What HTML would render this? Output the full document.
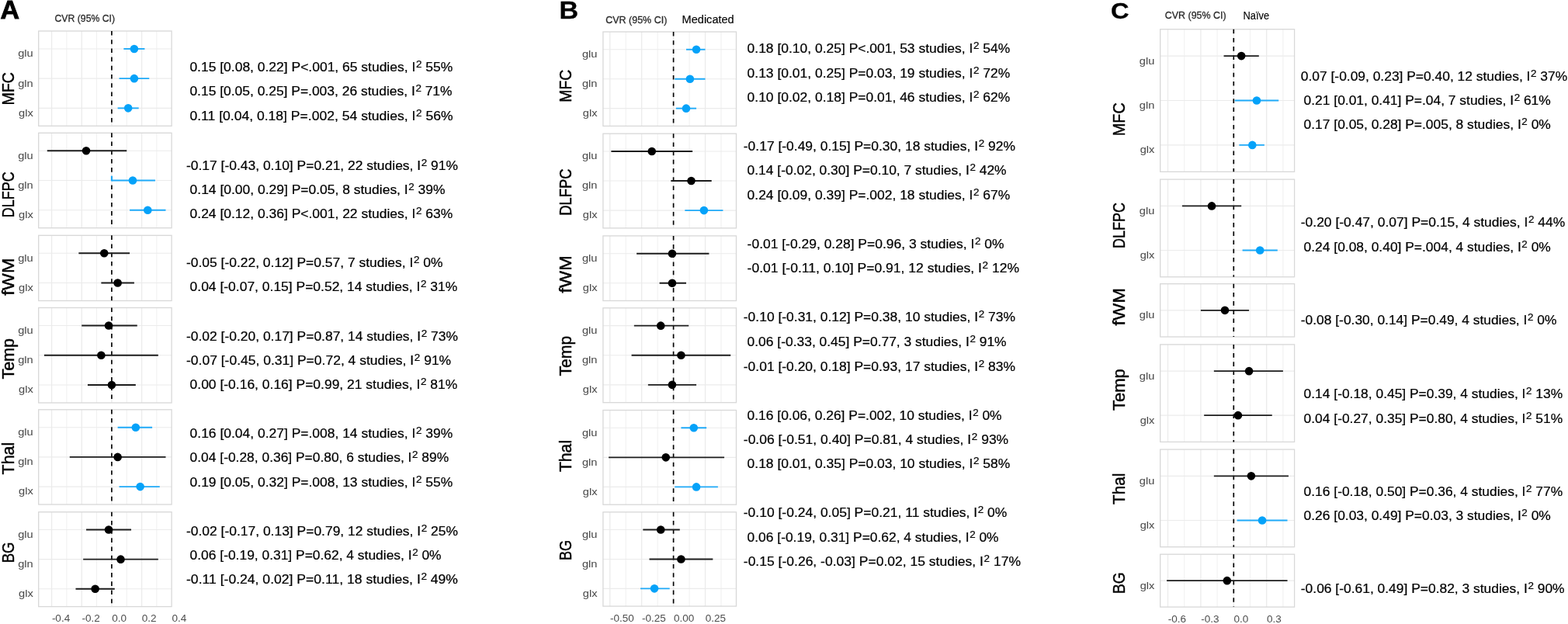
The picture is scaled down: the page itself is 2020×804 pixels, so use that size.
<!DOCTYPE html>
<html><head><meta charset="utf-8"><title>Forest plots</title>
<style>html,body{margin:0;padding:0;background:#fff;}body{width:2020px;height:804px;overflow:hidden;}svg{display:block;}text{font-family:"Liberation Sans", Arial, sans-serif;}</style>
</head><body>
<svg width="2020" height="804" viewBox="0 0 2020 804">
<rect x="0" y="0" width="2020" height="804" fill="#fff"/>
<g id="panelA">
<line x1="85.91" y1="40" x2="85.91" y2="162.3" stroke="#f1f1f1" stroke-width="1.1"/><line x1="124.57" y1="40" x2="124.57" y2="162.3" stroke="#f1f1f1" stroke-width="1.1"/><line x1="163.23" y1="40" x2="163.23" y2="162.3" stroke="#f1f1f1" stroke-width="1.1"/><line x1="201.89" y1="40" x2="201.89" y2="162.3" stroke="#f1f1f1" stroke-width="1.1"/><line x1="66.58" y1="40" x2="66.58" y2="162.3" stroke="#ebebeb" stroke-width="1.3"/><line x1="105.24" y1="40" x2="105.24" y2="162.3" stroke="#ebebeb" stroke-width="1.3"/><line x1="143.9" y1="40" x2="143.9" y2="162.3" stroke="#ebebeb" stroke-width="1.3"/><line x1="182.56" y1="40" x2="182.56" y2="162.3" stroke="#ebebeb" stroke-width="1.3"/><line x1="49.7" y1="62.93" x2="221.1" y2="62.93" stroke="#ebebeb" stroke-width="1.1"/><line x1="49.7" y1="101.15" x2="221.1" y2="101.15" stroke="#ebebeb" stroke-width="1.1"/><line x1="49.7" y1="139.37" x2="221.1" y2="139.37" stroke="#ebebeb" stroke-width="1.1"/>
<rect x="49.7" y="40" width="171.4" height="122.3" fill="none" stroke="#d8d8d8" stroke-width="1.3"/>
<line x1="143.9" y1="40" x2="143.9" y2="162.3" stroke="#000" stroke-width="1.65" stroke-dasharray="5.6 5.6"/>
<line x1="159.36" y1="62.93" x2="186.43" y2="62.93" stroke="#1faaf8" stroke-width="1.9"/>
<circle cx="172.9" cy="62.93" r="5.3" fill="#05a2f9"/>
<text x="42.7" y="73.33" font-size="13.3" fill="#4d4d4d" stroke="#4d4d4d" stroke-width="0.05" text-anchor="end" textLength="19.52" lengthAdjust="spacingAndGlyphs">glu</text>
<line x1="153.56" y1="101.15" x2="192.23" y2="101.15" stroke="#1faaf8" stroke-width="1.9"/>
<circle cx="172.9" cy="101.15" r="5.3" fill="#05a2f9"/>
<text x="42.7" y="111.55" font-size="13.3" fill="#4d4d4d" stroke="#4d4d4d" stroke-width="0.05" text-anchor="end" textLength="19.52" lengthAdjust="spacingAndGlyphs">gln</text>
<line x1="151.63" y1="139.37" x2="178.69" y2="139.37" stroke="#1faaf8" stroke-width="1.9"/>
<circle cx="165.16" cy="139.37" r="5.3" fill="#05a2f9"/>
<text x="42.7" y="149.77" font-size="13.3" fill="#4d4d4d" stroke="#4d4d4d" stroke-width="0.05" text-anchor="end" textLength="18.7" lengthAdjust="spacingAndGlyphs">glx</text>
<text transform="translate(17.9,135.5) rotate(-90)" font-size="21.2" fill="#000" stroke="#000" stroke-width="0.45" textLength="42.5" lengthAdjust="spacingAndGlyphs">MFC</text>
<line x1="85.91" y1="171.3" x2="85.91" y2="293.7" stroke="#f1f1f1" stroke-width="1.1"/><line x1="124.57" y1="171.3" x2="124.57" y2="293.7" stroke="#f1f1f1" stroke-width="1.1"/><line x1="163.23" y1="171.3" x2="163.23" y2="293.7" stroke="#f1f1f1" stroke-width="1.1"/><line x1="201.89" y1="171.3" x2="201.89" y2="293.7" stroke="#f1f1f1" stroke-width="1.1"/><line x1="66.58" y1="171.3" x2="66.58" y2="293.7" stroke="#ebebeb" stroke-width="1.3"/><line x1="105.24" y1="171.3" x2="105.24" y2="293.7" stroke="#ebebeb" stroke-width="1.3"/><line x1="143.9" y1="171.3" x2="143.9" y2="293.7" stroke="#ebebeb" stroke-width="1.3"/><line x1="182.56" y1="171.3" x2="182.56" y2="293.7" stroke="#ebebeb" stroke-width="1.3"/><line x1="49.7" y1="194.25" x2="221.1" y2="194.25" stroke="#ebebeb" stroke-width="1.1"/><line x1="49.7" y1="232.5" x2="221.1" y2="232.5" stroke="#ebebeb" stroke-width="1.1"/><line x1="49.7" y1="270.75" x2="221.1" y2="270.75" stroke="#ebebeb" stroke-width="1.1"/>
<rect x="49.7" y="171.3" width="171.4" height="122.4" fill="none" stroke="#d8d8d8" stroke-width="1.3"/>
<line x1="143.9" y1="171.3" x2="143.9" y2="293.7" stroke="#000" stroke-width="1.65" stroke-dasharray="5.6 5.6"/>
<line x1="60.78" y1="194.25" x2="163.23" y2="194.25" stroke="#1c1c1c" stroke-width="1.9"/>
<circle cx="111.04" cy="194.25" r="5.3" fill="#000000"/>
<text x="42.7" y="204.65" font-size="13.3" fill="#4d4d4d" stroke="#4d4d4d" stroke-width="0.05" text-anchor="end" textLength="19.52" lengthAdjust="spacingAndGlyphs">glu</text>
<line x1="143.9" y1="232.5" x2="199.96" y2="232.5" stroke="#1faaf8" stroke-width="1.9"/>
<circle cx="170.96" cy="232.5" r="5.3" fill="#05a2f9"/>
<text x="42.7" y="242.9" font-size="13.3" fill="#4d4d4d" stroke="#4d4d4d" stroke-width="0.05" text-anchor="end" textLength="19.52" lengthAdjust="spacingAndGlyphs">gln</text>
<line x1="167.1" y1="270.75" x2="213.49" y2="270.75" stroke="#1faaf8" stroke-width="1.9"/>
<circle cx="190.29" cy="270.75" r="5.3" fill="#05a2f9"/>
<text x="42.7" y="281.15" font-size="13.3" fill="#4d4d4d" stroke="#4d4d4d" stroke-width="0.05" text-anchor="end" textLength="18.7" lengthAdjust="spacingAndGlyphs">glx</text>
<text transform="translate(17.9,280.2) rotate(-90)" font-size="21.2" fill="#000" stroke="#000" stroke-width="0.45" textLength="58.9" lengthAdjust="spacingAndGlyphs">DLFPC</text>
<line x1="85.91" y1="303.3" x2="85.91" y2="387.5" stroke="#f1f1f1" stroke-width="1.1"/><line x1="124.57" y1="303.3" x2="124.57" y2="387.5" stroke="#f1f1f1" stroke-width="1.1"/><line x1="163.23" y1="303.3" x2="163.23" y2="387.5" stroke="#f1f1f1" stroke-width="1.1"/><line x1="201.89" y1="303.3" x2="201.89" y2="387.5" stroke="#f1f1f1" stroke-width="1.1"/><line x1="66.58" y1="303.3" x2="66.58" y2="387.5" stroke="#ebebeb" stroke-width="1.3"/><line x1="105.24" y1="303.3" x2="105.24" y2="387.5" stroke="#ebebeb" stroke-width="1.3"/><line x1="143.9" y1="303.3" x2="143.9" y2="387.5" stroke="#ebebeb" stroke-width="1.3"/><line x1="182.56" y1="303.3" x2="182.56" y2="387.5" stroke="#ebebeb" stroke-width="1.3"/><line x1="49.7" y1="326.26" x2="221.1" y2="326.26" stroke="#ebebeb" stroke-width="1.1"/><line x1="49.7" y1="364.54" x2="221.1" y2="364.54" stroke="#ebebeb" stroke-width="1.1"/>
<rect x="49.7" y="303.3" width="171.4" height="84.2" fill="none" stroke="#d8d8d8" stroke-width="1.3"/>
<line x1="143.9" y1="303.3" x2="143.9" y2="387.5" stroke="#000" stroke-width="1.65" stroke-dasharray="5.6 5.6"/>
<line x1="101.37" y1="326.26" x2="167.1" y2="326.26" stroke="#1c1c1c" stroke-width="1.9"/>
<circle cx="134.24" cy="326.26" r="5.3" fill="#000000"/>
<text x="42.7" y="336.66" font-size="13.3" fill="#4d4d4d" stroke="#4d4d4d" stroke-width="0.05" text-anchor="end" textLength="19.52" lengthAdjust="spacingAndGlyphs">glu</text>
<line x1="130.37" y1="364.54" x2="172.9" y2="364.54" stroke="#1c1c1c" stroke-width="1.9"/>
<circle cx="151.63" cy="364.54" r="5.3" fill="#000000"/>
<text x="42.7" y="374.94" font-size="13.3" fill="#4d4d4d" stroke="#4d4d4d" stroke-width="0.05" text-anchor="end" textLength="18.7" lengthAdjust="spacingAndGlyphs">glx</text>
<text transform="translate(17.9,380.7) rotate(-90)" font-size="21.2" fill="#000" stroke="#000" stroke-width="0.45" textLength="48.2" lengthAdjust="spacingAndGlyphs">fWM</text>
<line x1="85.91" y1="396.5" x2="85.91" y2="519" stroke="#f1f1f1" stroke-width="1.1"/><line x1="124.57" y1="396.5" x2="124.57" y2="519" stroke="#f1f1f1" stroke-width="1.1"/><line x1="163.23" y1="396.5" x2="163.23" y2="519" stroke="#f1f1f1" stroke-width="1.1"/><line x1="201.89" y1="396.5" x2="201.89" y2="519" stroke="#f1f1f1" stroke-width="1.1"/><line x1="66.58" y1="396.5" x2="66.58" y2="519" stroke="#ebebeb" stroke-width="1.3"/><line x1="105.24" y1="396.5" x2="105.24" y2="519" stroke="#ebebeb" stroke-width="1.3"/><line x1="143.9" y1="396.5" x2="143.9" y2="519" stroke="#ebebeb" stroke-width="1.3"/><line x1="182.56" y1="396.5" x2="182.56" y2="519" stroke="#ebebeb" stroke-width="1.3"/><line x1="49.7" y1="419.47" x2="221.1" y2="419.47" stroke="#ebebeb" stroke-width="1.1"/><line x1="49.7" y1="457.75" x2="221.1" y2="457.75" stroke="#ebebeb" stroke-width="1.1"/><line x1="49.7" y1="496.03" x2="221.1" y2="496.03" stroke="#ebebeb" stroke-width="1.1"/>
<rect x="49.7" y="396.5" width="171.4" height="122.5" fill="none" stroke="#d8d8d8" stroke-width="1.3"/>
<line x1="143.9" y1="396.5" x2="143.9" y2="519" stroke="#000" stroke-width="1.65" stroke-dasharray="5.6 5.6"/>
<line x1="105.24" y1="419.47" x2="176.76" y2="419.47" stroke="#1c1c1c" stroke-width="1.9"/>
<circle cx="140.03" cy="419.47" r="5.3" fill="#000000"/>
<text x="42.7" y="429.87" font-size="13.3" fill="#4d4d4d" stroke="#4d4d4d" stroke-width="0.05" text-anchor="end" textLength="19.52" lengthAdjust="spacingAndGlyphs">glu</text>
<line x1="56.91" y1="457.75" x2="203.82" y2="457.75" stroke="#1c1c1c" stroke-width="1.9"/>
<circle cx="130.37" cy="457.75" r="5.3" fill="#000000"/>
<text x="42.7" y="468.15" font-size="13.3" fill="#4d4d4d" stroke="#4d4d4d" stroke-width="0.05" text-anchor="end" textLength="19.52" lengthAdjust="spacingAndGlyphs">gln</text>
<line x1="112.97" y1="496.03" x2="174.83" y2="496.03" stroke="#1c1c1c" stroke-width="1.9"/>
<circle cx="143.9" cy="496.03" r="5.3" fill="#000000"/>
<text x="42.7" y="506.43" font-size="13.3" fill="#4d4d4d" stroke="#4d4d4d" stroke-width="0.05" text-anchor="end" textLength="18.7" lengthAdjust="spacingAndGlyphs">glx</text>
<text transform="translate(17.9,488.6) rotate(-90)" font-size="21.2" fill="#000" stroke="#000" stroke-width="0.45" textLength="52.6" lengthAdjust="spacingAndGlyphs">Temp</text>
<line x1="85.91" y1="527.8" x2="85.91" y2="650" stroke="#f1f1f1" stroke-width="1.1"/><line x1="124.57" y1="527.8" x2="124.57" y2="650" stroke="#f1f1f1" stroke-width="1.1"/><line x1="163.23" y1="527.8" x2="163.23" y2="650" stroke="#f1f1f1" stroke-width="1.1"/><line x1="201.89" y1="527.8" x2="201.89" y2="650" stroke="#f1f1f1" stroke-width="1.1"/><line x1="66.58" y1="527.8" x2="66.58" y2="650" stroke="#ebebeb" stroke-width="1.3"/><line x1="105.24" y1="527.8" x2="105.24" y2="650" stroke="#ebebeb" stroke-width="1.3"/><line x1="143.9" y1="527.8" x2="143.9" y2="650" stroke="#ebebeb" stroke-width="1.3"/><line x1="182.56" y1="527.8" x2="182.56" y2="650" stroke="#ebebeb" stroke-width="1.3"/><line x1="49.7" y1="550.71" x2="221.1" y2="550.71" stroke="#ebebeb" stroke-width="1.1"/><line x1="49.7" y1="588.9" x2="221.1" y2="588.9" stroke="#ebebeb" stroke-width="1.1"/><line x1="49.7" y1="627.09" x2="221.1" y2="627.09" stroke="#ebebeb" stroke-width="1.1"/>
<rect x="49.7" y="527.8" width="171.4" height="122.2" fill="none" stroke="#d8d8d8" stroke-width="1.3"/>
<line x1="143.9" y1="527.8" x2="143.9" y2="650" stroke="#000" stroke-width="1.65" stroke-dasharray="5.6 5.6"/>
<line x1="151.63" y1="550.71" x2="196.09" y2="550.71" stroke="#1faaf8" stroke-width="1.9"/>
<circle cx="174.83" cy="550.71" r="5.3" fill="#05a2f9"/>
<text x="42.7" y="561.11" font-size="13.3" fill="#4d4d4d" stroke="#4d4d4d" stroke-width="0.05" text-anchor="end" textLength="19.52" lengthAdjust="spacingAndGlyphs">glu</text>
<line x1="89.78" y1="588.9" x2="213.49" y2="588.9" stroke="#1c1c1c" stroke-width="1.9"/>
<circle cx="151.63" cy="588.9" r="5.3" fill="#000000"/>
<text x="42.7" y="599.3" font-size="13.3" fill="#4d4d4d" stroke="#4d4d4d" stroke-width="0.05" text-anchor="end" textLength="19.52" lengthAdjust="spacingAndGlyphs">gln</text>
<line x1="153.56" y1="627.09" x2="205.76" y2="627.09" stroke="#1faaf8" stroke-width="1.9"/>
<circle cx="180.63" cy="627.09" r="5.3" fill="#05a2f9"/>
<text x="42.7" y="637.49" font-size="13.3" fill="#4d4d4d" stroke="#4d4d4d" stroke-width="0.05" text-anchor="end" textLength="18.7" lengthAdjust="spacingAndGlyphs">glx</text>
<text transform="translate(17.9,611.4) rotate(-90)" font-size="21.2" fill="#000" stroke="#000" stroke-width="0.45" textLength="41.7" lengthAdjust="spacingAndGlyphs">Thal</text>
<line x1="85.91" y1="659.7" x2="85.91" y2="781.6" stroke="#f1f1f1" stroke-width="1.1"/><line x1="124.57" y1="659.7" x2="124.57" y2="781.6" stroke="#f1f1f1" stroke-width="1.1"/><line x1="163.23" y1="659.7" x2="163.23" y2="781.6" stroke="#f1f1f1" stroke-width="1.1"/><line x1="201.89" y1="659.7" x2="201.89" y2="781.6" stroke="#f1f1f1" stroke-width="1.1"/><line x1="66.58" y1="659.7" x2="66.58" y2="781.6" stroke="#ebebeb" stroke-width="1.3"/><line x1="105.24" y1="659.7" x2="105.24" y2="781.6" stroke="#ebebeb" stroke-width="1.3"/><line x1="143.9" y1="659.7" x2="143.9" y2="781.6" stroke="#ebebeb" stroke-width="1.3"/><line x1="182.56" y1="659.7" x2="182.56" y2="781.6" stroke="#ebebeb" stroke-width="1.3"/><line x1="49.7" y1="682.56" x2="221.1" y2="682.56" stroke="#ebebeb" stroke-width="1.1"/><line x1="49.7" y1="720.65" x2="221.1" y2="720.65" stroke="#ebebeb" stroke-width="1.1"/><line x1="49.7" y1="758.74" x2="221.1" y2="758.74" stroke="#ebebeb" stroke-width="1.1"/>
<rect x="49.7" y="659.7" width="171.4" height="121.9" fill="none" stroke="#d8d8d8" stroke-width="1.3"/>
<line x1="143.9" y1="659.7" x2="143.9" y2="781.6" stroke="#000" stroke-width="1.65" stroke-dasharray="5.6 5.6"/>
<line x1="111.04" y1="682.56" x2="169.03" y2="682.56" stroke="#1c1c1c" stroke-width="1.9"/>
<circle cx="140.03" cy="682.56" r="5.3" fill="#000000"/>
<text x="42.7" y="692.96" font-size="13.3" fill="#4d4d4d" stroke="#4d4d4d" stroke-width="0.05" text-anchor="end" textLength="19.52" lengthAdjust="spacingAndGlyphs">glu</text>
<line x1="107.17" y1="720.65" x2="203.82" y2="720.65" stroke="#1c1c1c" stroke-width="1.9"/>
<circle cx="155.5" cy="720.65" r="5.3" fill="#000000"/>
<text x="42.7" y="731.05" font-size="13.3" fill="#4d4d4d" stroke="#4d4d4d" stroke-width="0.05" text-anchor="end" textLength="19.52" lengthAdjust="spacingAndGlyphs">gln</text>
<line x1="97.51" y1="758.74" x2="147.77" y2="758.74" stroke="#1c1c1c" stroke-width="1.9"/>
<circle cx="122.64" cy="758.74" r="5.3" fill="#000000"/>
<text x="42.7" y="769.14" font-size="13.3" fill="#4d4d4d" stroke="#4d4d4d" stroke-width="0.05" text-anchor="end" textLength="18.7" lengthAdjust="spacingAndGlyphs">glx</text>
<text transform="translate(17.9,725.3) rotate(-90)" font-size="21.2" fill="#000" stroke="#000" stroke-width="0.45" textLength="26.9" lengthAdjust="spacingAndGlyphs">BG</text>
<line x1="143.9" y1="226.6" x2="143.9" y2="233.4" stroke="#1faaf8" stroke-width="2.1"/>
<text x="66.88" y="800.8" font-size="13.5" fill="#4d4d4d">-0.4</text>
<text x="105.54" y="800.8" font-size="13.5" fill="#4d4d4d">-0.2</text>
<text x="144.2" y="800.8" font-size="13.5" fill="#4d4d4d">0.0</text>
<text x="182.86" y="800.8" font-size="13.5" fill="#4d4d4d">0.2</text>
<text x="221.52" y="800.8" font-size="13.5" fill="#4d4d4d">0.4</text>
<text transform="translate(0.4,24) scale(1.0,1)" font-size="34" font-weight="bold" fill="#000" stroke="#000" stroke-width="0.9">A</text>
<text x="70.5" y="27.7" font-size="12.6" fill="#2a2a2a" stroke="#2a2a2a" stroke-width="0.3" textLength="77.6" lengthAdjust="spacingAndGlyphs">CVR (95% CI)</text>
<text x="244.4" y="91.8" font-size="16.3" fill="#000" stroke="#000" stroke-width="0.22" textLength="338.8" lengthAdjust="spacingAndGlyphs">0.15 [0.08, 0.22] P&lt;.001, 65 studies, I<tspan font-size="12.5" dx="0.6" dy="-5.0">2</tspan><tspan dy="5.0"> 55%</tspan></text>
<text x="244.4" y="123.2" font-size="16.3" fill="#000" stroke="#000" stroke-width="0.22" textLength="338.2" lengthAdjust="spacingAndGlyphs">0.15 [0.05, 0.25] P=.003, 26 studies, I<tspan font-size="12.5" dx="0.6" dy="-5.0">2</tspan><tspan dy="5.0"> 71%</tspan></text>
<text x="244.4" y="154.5" font-size="16.3" fill="#000" stroke="#000" stroke-width="0.22" textLength="339.2" lengthAdjust="spacingAndGlyphs">0.11 [0.04, 0.18] P=.002, 54 studies, I<tspan font-size="12.5" dx="0.6" dy="-5.0">2</tspan><tspan dy="5.0"> 56%</tspan></text>
<text x="240" y="218.6" font-size="16.3" fill="#000" stroke="#000" stroke-width="0.22" textLength="350" lengthAdjust="spacingAndGlyphs">-0.17 [-0.43, 0.10] P=0.21, 22 studies, I<tspan font-size="12.5" dx="0.6" dy="-5.0">2</tspan><tspan dy="5.0"> 91%</tspan></text>
<text x="244.6" y="249.7" font-size="16.3" fill="#000" stroke="#000" stroke-width="0.22" textLength="329" lengthAdjust="spacingAndGlyphs">0.14 [0.00, 0.29] P=0.05, 8 studies, I<tspan font-size="12.5" dx="0.6" dy="-5.0">2</tspan><tspan dy="5.0"> 39%</tspan></text>
<text x="244.6" y="281.3" font-size="16.3" fill="#000" stroke="#000" stroke-width="0.22" textLength="338.6" lengthAdjust="spacingAndGlyphs">0.24 [0.12, 0.36] P&lt;.001, 22 studies, I<tspan font-size="12.5" dx="0.6" dy="-5.0">2</tspan><tspan dy="5.0"> 63%</tspan></text>
<text x="240" y="344.2" font-size="16.3" fill="#000" stroke="#000" stroke-width="0.22" textLength="330.4" lengthAdjust="spacingAndGlyphs">-0.05 [-0.22, 0.12] P=0.57, 7 studies, I<tspan font-size="12.5" dx="0.6" dy="-5.0">2</tspan><tspan dy="5.0"> 0%</tspan></text>
<text x="244.6" y="375.3" font-size="16.3" fill="#000" stroke="#000" stroke-width="0.22" textLength="344.6" lengthAdjust="spacingAndGlyphs">0.04 [-0.07, 0.15] P=0.52, 14 studies, I<tspan font-size="12.5" dx="0.6" dy="-5.0">2</tspan><tspan dy="5.0"> 31%</tspan></text>
<text x="240" y="438.6" font-size="16.3" fill="#000" stroke="#000" stroke-width="0.22" textLength="350" lengthAdjust="spacingAndGlyphs">-0.02 [-0.20, 0.17] P=0.87, 14 studies, I<tspan font-size="12.5" dx="0.6" dy="-5.0">2</tspan><tspan dy="5.0"> 73%</tspan></text>
<text x="240" y="469.7" font-size="16.3" fill="#000" stroke="#000" stroke-width="0.22" textLength="341.2" lengthAdjust="spacingAndGlyphs">-0.07 [-0.45, 0.31] P=0.72, 4 studies, I<tspan font-size="12.5" dx="0.6" dy="-5.0">2</tspan><tspan dy="5.0"> 91%</tspan></text>
<text x="244.6" y="501.3" font-size="16.3" fill="#000" stroke="#000" stroke-width="0.22" textLength="344.6" lengthAdjust="spacingAndGlyphs">0.00 [-0.16, 0.16] P=0.99, 21 studies, I<tspan font-size="12.5" dx="0.6" dy="-5.0">2</tspan><tspan dy="5.0"> 81%</tspan></text>
<text x="244.6" y="563.8" font-size="16.3" fill="#000" stroke="#000" stroke-width="0.22" textLength="338.6" lengthAdjust="spacingAndGlyphs">0.16 [0.04, 0.27] P=.008, 14 studies, I<tspan font-size="12.5" dx="0.6" dy="-5.0">2</tspan><tspan dy="5.0"> 39%</tspan></text>
<text x="244.6" y="594.9" font-size="16.3" fill="#000" stroke="#000" stroke-width="0.22" textLength="333.6" lengthAdjust="spacingAndGlyphs">0.04 [-0.28, 0.36] P=0.80, 6 studies, I<tspan font-size="12.5" dx="0.6" dy="-5.0">2</tspan><tspan dy="5.0"> 89%</tspan></text>
<text x="244.6" y="626.9" font-size="16.3" fill="#000" stroke="#000" stroke-width="0.22" textLength="338.6" lengthAdjust="spacingAndGlyphs">0.19 [0.05, 0.32] P=.008, 13 studies, I<tspan font-size="12.5" dx="0.6" dy="-5.0">2</tspan><tspan dy="5.0"> 55%</tspan></text>
<text x="240" y="689.6" font-size="16.3" fill="#000" stroke="#000" stroke-width="0.22" textLength="350" lengthAdjust="spacingAndGlyphs">-0.02 [-0.17, 0.13] P=0.79, 12 studies, I<tspan font-size="12.5" dx="0.6" dy="-5.0">2</tspan><tspan dy="5.0"> 25%</tspan></text>
<text x="244.6" y="721.4" font-size="16.3" fill="#000" stroke="#000" stroke-width="0.22" textLength="324" lengthAdjust="spacingAndGlyphs">0.06 [-0.19, 0.31] P=0.62, 4 studies, I<tspan font-size="12.5" dx="0.6" dy="-5.0">2</tspan><tspan dy="5.0"> 0%</tspan></text>
<text x="240" y="752.3" font-size="16.3" fill="#000" stroke="#000" stroke-width="0.22" textLength="350" lengthAdjust="spacingAndGlyphs">-0.11 [-0.24, 0.02] P=0.11, 18 studies, I<tspan font-size="12.5" dx="0.6" dy="-5.0">2</tspan><tspan dy="5.0"> 49%</tspan></text>
</g>
<g id="panelB">
<line x1="806.21" y1="41" x2="806.21" y2="162.4" stroke="#f1f1f1" stroke-width="1.1"/><line x1="847.14" y1="41" x2="847.14" y2="162.4" stroke="#f1f1f1" stroke-width="1.1"/><line x1="888.06" y1="41" x2="888.06" y2="162.4" stroke="#f1f1f1" stroke-width="1.1"/><line x1="928.99" y1="41" x2="928.99" y2="162.4" stroke="#f1f1f1" stroke-width="1.1"/><line x1="785.75" y1="41" x2="785.75" y2="162.4" stroke="#ebebeb" stroke-width="1.3"/><line x1="826.68" y1="41" x2="826.68" y2="162.4" stroke="#ebebeb" stroke-width="1.3"/><line x1="867.6" y1="41" x2="867.6" y2="162.4" stroke="#ebebeb" stroke-width="1.3"/><line x1="908.52" y1="41" x2="908.52" y2="162.4" stroke="#ebebeb" stroke-width="1.3"/><line x1="776.9" y1="63.76" x2="948.5" y2="63.76" stroke="#ebebeb" stroke-width="1.1"/><line x1="776.9" y1="101.7" x2="948.5" y2="101.7" stroke="#ebebeb" stroke-width="1.1"/><line x1="776.9" y1="139.64" x2="948.5" y2="139.64" stroke="#ebebeb" stroke-width="1.1"/>
<rect x="776.9" y="41" width="171.6" height="121.4" fill="none" stroke="#d8d8d8" stroke-width="1.3"/>
<line x1="867.6" y1="41" x2="867.6" y2="162.4" stroke="#000" stroke-width="1.65" stroke-dasharray="5.6 5.6"/>
<line x1="883.97" y1="63.76" x2="908.52" y2="63.76" stroke="#1faaf8" stroke-width="1.9"/>
<circle cx="897.07" cy="63.76" r="5.3" fill="#05a2f9"/>
<text x="769.5" y="74.16" font-size="13.3" fill="#4d4d4d" stroke="#4d4d4d" stroke-width="0.05" text-anchor="end" textLength="19.52" lengthAdjust="spacingAndGlyphs">glu</text>
<line x1="869.24" y1="101.7" x2="908.52" y2="101.7" stroke="#1faaf8" stroke-width="1.9"/>
<circle cx="888.88" cy="101.7" r="5.3" fill="#05a2f9"/>
<text x="769.5" y="112.1" font-size="13.3" fill="#4d4d4d" stroke="#4d4d4d" stroke-width="0.05" text-anchor="end" textLength="19.52" lengthAdjust="spacingAndGlyphs">gln</text>
<line x1="870.87" y1="139.64" x2="897.07" y2="139.64" stroke="#1faaf8" stroke-width="1.9"/>
<circle cx="883.97" cy="139.64" r="5.3" fill="#05a2f9"/>
<text x="769.5" y="150.04" font-size="13.3" fill="#4d4d4d" stroke="#4d4d4d" stroke-width="0.05" text-anchor="end" textLength="18.7" lengthAdjust="spacingAndGlyphs">glx</text>
<text transform="translate(736,131.8) rotate(-90)" font-size="21.2" fill="#000" stroke="#000" stroke-width="0.45" textLength="42.1" lengthAdjust="spacingAndGlyphs">MFC</text>
<line x1="806.21" y1="172.2" x2="806.21" y2="293.9" stroke="#f1f1f1" stroke-width="1.1"/><line x1="847.14" y1="172.2" x2="847.14" y2="293.9" stroke="#f1f1f1" stroke-width="1.1"/><line x1="888.06" y1="172.2" x2="888.06" y2="293.9" stroke="#f1f1f1" stroke-width="1.1"/><line x1="928.99" y1="172.2" x2="928.99" y2="293.9" stroke="#f1f1f1" stroke-width="1.1"/><line x1="785.75" y1="172.2" x2="785.75" y2="293.9" stroke="#ebebeb" stroke-width="1.3"/><line x1="826.68" y1="172.2" x2="826.68" y2="293.9" stroke="#ebebeb" stroke-width="1.3"/><line x1="867.6" y1="172.2" x2="867.6" y2="293.9" stroke="#ebebeb" stroke-width="1.3"/><line x1="908.52" y1="172.2" x2="908.52" y2="293.9" stroke="#ebebeb" stroke-width="1.3"/><line x1="776.9" y1="195.02" x2="948.5" y2="195.02" stroke="#ebebeb" stroke-width="1.1"/><line x1="776.9" y1="233.05" x2="948.5" y2="233.05" stroke="#ebebeb" stroke-width="1.1"/><line x1="776.9" y1="271.08" x2="948.5" y2="271.08" stroke="#ebebeb" stroke-width="1.1"/>
<rect x="776.9" y="172.2" width="171.6" height="121.7" fill="none" stroke="#d8d8d8" stroke-width="1.3"/>
<line x1="867.6" y1="172.2" x2="867.6" y2="293.9" stroke="#000" stroke-width="1.65" stroke-dasharray="5.6 5.6"/>
<line x1="787.39" y1="195.02" x2="892.15" y2="195.02" stroke="#1c1c1c" stroke-width="1.9"/>
<circle cx="839.77" cy="195.02" r="5.3" fill="#000000"/>
<text x="769.5" y="205.42" font-size="13.3" fill="#4d4d4d" stroke="#4d4d4d" stroke-width="0.05" text-anchor="end" textLength="19.52" lengthAdjust="spacingAndGlyphs">glu</text>
<line x1="864.33" y1="233.05" x2="916.71" y2="233.05" stroke="#1c1c1c" stroke-width="1.9"/>
<circle cx="890.52" cy="233.05" r="5.3" fill="#000000"/>
<text x="769.5" y="243.45" font-size="13.3" fill="#4d4d4d" stroke="#4d4d4d" stroke-width="0.05" text-anchor="end" textLength="19.52" lengthAdjust="spacingAndGlyphs">gln</text>
<line x1="882.33" y1="271.08" x2="931.44" y2="271.08" stroke="#1faaf8" stroke-width="1.9"/>
<circle cx="906.89" cy="271.08" r="5.3" fill="#05a2f9"/>
<text x="769.5" y="281.48" font-size="13.3" fill="#4d4d4d" stroke="#4d4d4d" stroke-width="0.05" text-anchor="end" textLength="18.7" lengthAdjust="spacingAndGlyphs">glx</text>
<text transform="translate(736,277.7) rotate(-90)" font-size="21.2" fill="#000" stroke="#000" stroke-width="0.45" textLength="60.3" lengthAdjust="spacingAndGlyphs">DLFPC</text>
<line x1="806.21" y1="303.9" x2="806.21" y2="387.5" stroke="#f1f1f1" stroke-width="1.1"/><line x1="847.14" y1="303.9" x2="847.14" y2="387.5" stroke="#f1f1f1" stroke-width="1.1"/><line x1="888.06" y1="303.9" x2="888.06" y2="387.5" stroke="#f1f1f1" stroke-width="1.1"/><line x1="928.99" y1="303.9" x2="928.99" y2="387.5" stroke="#f1f1f1" stroke-width="1.1"/><line x1="785.75" y1="303.9" x2="785.75" y2="387.5" stroke="#ebebeb" stroke-width="1.3"/><line x1="826.68" y1="303.9" x2="826.68" y2="387.5" stroke="#ebebeb" stroke-width="1.3"/><line x1="867.6" y1="303.9" x2="867.6" y2="387.5" stroke="#ebebeb" stroke-width="1.3"/><line x1="908.52" y1="303.9" x2="908.52" y2="387.5" stroke="#ebebeb" stroke-width="1.3"/><line x1="776.9" y1="326.7" x2="948.5" y2="326.7" stroke="#ebebeb" stroke-width="1.1"/><line x1="776.9" y1="364.7" x2="948.5" y2="364.7" stroke="#ebebeb" stroke-width="1.1"/>
<rect x="776.9" y="303.9" width="171.6" height="83.6" fill="none" stroke="#d8d8d8" stroke-width="1.3"/>
<line x1="867.6" y1="303.9" x2="867.6" y2="387.5" stroke="#000" stroke-width="1.65" stroke-dasharray="5.6 5.6"/>
<line x1="820.13" y1="326.7" x2="913.44" y2="326.7" stroke="#1c1c1c" stroke-width="1.9"/>
<circle cx="865.96" cy="326.7" r="5.3" fill="#000000"/>
<text x="769.5" y="337.1" font-size="13.3" fill="#4d4d4d" stroke="#4d4d4d" stroke-width="0.05" text-anchor="end" textLength="19.52" lengthAdjust="spacingAndGlyphs">glu</text>
<line x1="849.59" y1="364.7" x2="883.97" y2="364.7" stroke="#1c1c1c" stroke-width="1.9"/>
<circle cx="865.96" cy="364.7" r="5.3" fill="#000000"/>
<text x="769.5" y="375.1" font-size="13.3" fill="#4d4d4d" stroke="#4d4d4d" stroke-width="0.05" text-anchor="end" textLength="18.7" lengthAdjust="spacingAndGlyphs">glx</text>
<text transform="translate(736,377.5) rotate(-90)" font-size="21.2" fill="#000" stroke="#000" stroke-width="0.45" textLength="48.2" lengthAdjust="spacingAndGlyphs">fWM</text>
<line x1="806.21" y1="396.8" x2="806.21" y2="518.7" stroke="#f1f1f1" stroke-width="1.1"/><line x1="847.14" y1="396.8" x2="847.14" y2="518.7" stroke="#f1f1f1" stroke-width="1.1"/><line x1="888.06" y1="396.8" x2="888.06" y2="518.7" stroke="#f1f1f1" stroke-width="1.1"/><line x1="928.99" y1="396.8" x2="928.99" y2="518.7" stroke="#f1f1f1" stroke-width="1.1"/><line x1="785.75" y1="396.8" x2="785.75" y2="518.7" stroke="#ebebeb" stroke-width="1.3"/><line x1="826.68" y1="396.8" x2="826.68" y2="518.7" stroke="#ebebeb" stroke-width="1.3"/><line x1="867.6" y1="396.8" x2="867.6" y2="518.7" stroke="#ebebeb" stroke-width="1.3"/><line x1="908.52" y1="396.8" x2="908.52" y2="518.7" stroke="#ebebeb" stroke-width="1.3"/><line x1="776.9" y1="419.66" x2="948.5" y2="419.66" stroke="#ebebeb" stroke-width="1.1"/><line x1="776.9" y1="457.75" x2="948.5" y2="457.75" stroke="#ebebeb" stroke-width="1.1"/><line x1="776.9" y1="495.84" x2="948.5" y2="495.84" stroke="#ebebeb" stroke-width="1.1"/>
<rect x="776.9" y="396.8" width="171.6" height="121.9" fill="none" stroke="#d8d8d8" stroke-width="1.3"/>
<line x1="867.6" y1="396.8" x2="867.6" y2="518.7" stroke="#000" stroke-width="1.65" stroke-dasharray="5.6 5.6"/>
<line x1="816.85" y1="419.66" x2="887.24" y2="419.66" stroke="#1c1c1c" stroke-width="1.9"/>
<circle cx="851.23" cy="419.66" r="5.3" fill="#000000"/>
<text x="769.5" y="430.06" font-size="13.3" fill="#4d4d4d" stroke="#4d4d4d" stroke-width="0.05" text-anchor="end" textLength="19.52" lengthAdjust="spacingAndGlyphs">glu</text>
<line x1="813.58" y1="457.75" x2="941.26" y2="457.75" stroke="#1c1c1c" stroke-width="1.9"/>
<circle cx="877.42" cy="457.75" r="5.3" fill="#000000"/>
<text x="769.5" y="468.15" font-size="13.3" fill="#4d4d4d" stroke="#4d4d4d" stroke-width="0.05" text-anchor="end" textLength="19.52" lengthAdjust="spacingAndGlyphs">gln</text>
<line x1="834.86" y1="495.84" x2="897.07" y2="495.84" stroke="#1c1c1c" stroke-width="1.9"/>
<circle cx="865.96" cy="495.84" r="5.3" fill="#000000"/>
<text x="769.5" y="506.24" font-size="13.3" fill="#4d4d4d" stroke="#4d4d4d" stroke-width="0.05" text-anchor="end" textLength="18.7" lengthAdjust="spacingAndGlyphs">glx</text>
<text transform="translate(736,484.5) rotate(-90)" font-size="21.2" fill="#000" stroke="#000" stroke-width="0.45" textLength="51.7" lengthAdjust="spacingAndGlyphs">Temp</text>
<line x1="806.21" y1="528.5" x2="806.21" y2="650.2" stroke="#f1f1f1" stroke-width="1.1"/><line x1="847.14" y1="528.5" x2="847.14" y2="650.2" stroke="#f1f1f1" stroke-width="1.1"/><line x1="888.06" y1="528.5" x2="888.06" y2="650.2" stroke="#f1f1f1" stroke-width="1.1"/><line x1="928.99" y1="528.5" x2="928.99" y2="650.2" stroke="#f1f1f1" stroke-width="1.1"/><line x1="785.75" y1="528.5" x2="785.75" y2="650.2" stroke="#ebebeb" stroke-width="1.3"/><line x1="826.68" y1="528.5" x2="826.68" y2="650.2" stroke="#ebebeb" stroke-width="1.3"/><line x1="867.6" y1="528.5" x2="867.6" y2="650.2" stroke="#ebebeb" stroke-width="1.3"/><line x1="908.52" y1="528.5" x2="908.52" y2="650.2" stroke="#ebebeb" stroke-width="1.3"/><line x1="776.9" y1="551.32" x2="948.5" y2="551.32" stroke="#ebebeb" stroke-width="1.1"/><line x1="776.9" y1="589.35" x2="948.5" y2="589.35" stroke="#ebebeb" stroke-width="1.1"/><line x1="776.9" y1="627.38" x2="948.5" y2="627.38" stroke="#ebebeb" stroke-width="1.1"/>
<rect x="776.9" y="528.5" width="171.6" height="121.7" fill="none" stroke="#d8d8d8" stroke-width="1.3"/>
<line x1="867.6" y1="528.5" x2="867.6" y2="650.2" stroke="#000" stroke-width="1.65" stroke-dasharray="5.6 5.6"/>
<line x1="877.42" y1="551.32" x2="910.16" y2="551.32" stroke="#1faaf8" stroke-width="1.9"/>
<circle cx="893.79" cy="551.32" r="5.3" fill="#05a2f9"/>
<text x="769.5" y="561.72" font-size="13.3" fill="#4d4d4d" stroke="#4d4d4d" stroke-width="0.05" text-anchor="end" textLength="19.52" lengthAdjust="spacingAndGlyphs">glu</text>
<line x1="784.11" y1="589.35" x2="933.08" y2="589.35" stroke="#1c1c1c" stroke-width="1.9"/>
<circle cx="857.78" cy="589.35" r="5.3" fill="#000000"/>
<text x="769.5" y="599.75" font-size="13.3" fill="#4d4d4d" stroke="#4d4d4d" stroke-width="0.05" text-anchor="end" textLength="19.52" lengthAdjust="spacingAndGlyphs">gln</text>
<line x1="869.24" y1="627.38" x2="924.89" y2="627.38" stroke="#1faaf8" stroke-width="1.9"/>
<circle cx="897.07" cy="627.38" r="5.3" fill="#05a2f9"/>
<text x="769.5" y="637.78" font-size="13.3" fill="#4d4d4d" stroke="#4d4d4d" stroke-width="0.05" text-anchor="end" textLength="18.7" lengthAdjust="spacingAndGlyphs">glx</text>
<text transform="translate(736,608.1) rotate(-90)" font-size="21.2" fill="#000" stroke="#000" stroke-width="0.45" textLength="41.2" lengthAdjust="spacingAndGlyphs">Thal</text>
<line x1="806.21" y1="659.8" x2="806.21" y2="781.1" stroke="#f1f1f1" stroke-width="1.1"/><line x1="847.14" y1="659.8" x2="847.14" y2="781.1" stroke="#f1f1f1" stroke-width="1.1"/><line x1="888.06" y1="659.8" x2="888.06" y2="781.1" stroke="#f1f1f1" stroke-width="1.1"/><line x1="928.99" y1="659.8" x2="928.99" y2="781.1" stroke="#f1f1f1" stroke-width="1.1"/><line x1="785.75" y1="659.8" x2="785.75" y2="781.1" stroke="#ebebeb" stroke-width="1.3"/><line x1="826.68" y1="659.8" x2="826.68" y2="781.1" stroke="#ebebeb" stroke-width="1.3"/><line x1="867.6" y1="659.8" x2="867.6" y2="781.1" stroke="#ebebeb" stroke-width="1.3"/><line x1="908.52" y1="659.8" x2="908.52" y2="781.1" stroke="#ebebeb" stroke-width="1.3"/><line x1="776.9" y1="682.54" x2="948.5" y2="682.54" stroke="#ebebeb" stroke-width="1.1"/><line x1="776.9" y1="720.45" x2="948.5" y2="720.45" stroke="#ebebeb" stroke-width="1.1"/><line x1="776.9" y1="758.36" x2="948.5" y2="758.36" stroke="#ebebeb" stroke-width="1.1"/>
<rect x="776.9" y="659.8" width="171.6" height="121.3" fill="none" stroke="#d8d8d8" stroke-width="1.3"/>
<line x1="867.6" y1="659.8" x2="867.6" y2="781.1" stroke="#000" stroke-width="1.65" stroke-dasharray="5.6 5.6"/>
<line x1="828.31" y1="682.54" x2="875.78" y2="682.54" stroke="#1c1c1c" stroke-width="1.9"/>
<circle cx="851.23" cy="682.54" r="5.3" fill="#000000"/>
<text x="769.5" y="692.94" font-size="13.3" fill="#4d4d4d" stroke="#4d4d4d" stroke-width="0.05" text-anchor="end" textLength="19.52" lengthAdjust="spacingAndGlyphs">glu</text>
<line x1="836.5" y1="720.45" x2="918.35" y2="720.45" stroke="#1c1c1c" stroke-width="1.9"/>
<circle cx="877.42" cy="720.45" r="5.3" fill="#000000"/>
<text x="769.5" y="730.85" font-size="13.3" fill="#4d4d4d" stroke="#4d4d4d" stroke-width="0.05" text-anchor="end" textLength="19.52" lengthAdjust="spacingAndGlyphs">gln</text>
<line x1="825.04" y1="758.36" x2="862.69" y2="758.36" stroke="#1faaf8" stroke-width="1.9"/>
<circle cx="843.05" cy="758.36" r="5.3" fill="#05a2f9"/>
<text x="769.5" y="768.76" font-size="13.3" fill="#4d4d4d" stroke="#4d4d4d" stroke-width="0.05" text-anchor="end" textLength="18.7" lengthAdjust="spacingAndGlyphs">glx</text>
<text transform="translate(736,722) rotate(-90)" font-size="21.2" fill="#000" stroke="#000" stroke-width="0.45" textLength="26.1" lengthAdjust="spacingAndGlyphs">BG</text>
<text x="786.05" y="801.1" font-size="13.5" fill="#4d4d4d">-0.50</text>
<text x="826.98" y="801.1" font-size="13.5" fill="#4d4d4d">-0.25</text>
<text x="867.9" y="801.1" font-size="13.5" fill="#4d4d4d">0.00</text>
<text x="908.82" y="801.1" font-size="13.5" fill="#4d4d4d">0.25</text>
<text transform="translate(720.4,24) scale(1.1,1)" font-size="31" font-weight="bold" fill="#000" stroke="#000" stroke-width="0.3">B</text>
<text x="780.3" y="29.9" font-size="12.6" fill="#2a2a2a" stroke="#2a2a2a" stroke-width="0.3" textLength="79" lengthAdjust="spacingAndGlyphs">CVR (95% CI)</text>
<text x="878.6" y="29.9" font-size="14" fill="#000" stroke="#000" stroke-width="0.15" textLength="67.1" lengthAdjust="spacingAndGlyphs">Medicated</text>
<text x="962.6" y="68.1" font-size="16.3" fill="#000" stroke="#000" stroke-width="0.22" textLength="338.6" lengthAdjust="spacingAndGlyphs">0.18 [0.10, 0.25] P&lt;.001, 53 studies, I<tspan font-size="12.5" dx="0.6" dy="-5.0">2</tspan><tspan dy="5.0"> 54%</tspan></text>
<text x="962.6" y="99.7" font-size="16.3" fill="#000" stroke="#000" stroke-width="0.22" textLength="338.6" lengthAdjust="spacingAndGlyphs">0.13 [0.01, 0.25] P=0.03, 19 studies, I<tspan font-size="12.5" dx="0.6" dy="-5.0">2</tspan><tspan dy="5.0"> 72%</tspan></text>
<text x="962.6" y="131.3" font-size="16.3" fill="#000" stroke="#000" stroke-width="0.22" textLength="338.6" lengthAdjust="spacingAndGlyphs">0.10 [0.02, 0.18] P=0.01, 46 studies, I<tspan font-size="12.5" dx="0.6" dy="-5.0">2</tspan><tspan dy="5.0"> 62%</tspan></text>
<text x="957.8" y="194.3" font-size="16.3" fill="#000" stroke="#000" stroke-width="0.22" textLength="350.2" lengthAdjust="spacingAndGlyphs">-0.17 [-0.49, 0.15] P=0.30, 18 studies, I<tspan font-size="12.5" dx="0.6" dy="-5.0">2</tspan><tspan dy="5.0"> 92%</tspan></text>
<text x="962.6" y="225.4" font-size="16.3" fill="#000" stroke="#000" stroke-width="0.22" textLength="334" lengthAdjust="spacingAndGlyphs">0.14 [-0.02, 0.30] P=0.10, 7 studies, I<tspan font-size="12.5" dx="0.6" dy="-5.0">2</tspan><tspan dy="5.0"> 42%</tspan></text>
<text x="962.6" y="256.9" font-size="16.3" fill="#000" stroke="#000" stroke-width="0.22" textLength="338.6" lengthAdjust="spacingAndGlyphs">0.24 [0.09, 0.39] P=.002, 18 studies, I<tspan font-size="12.5" dx="0.6" dy="-5.0">2</tspan><tspan dy="5.0"> 67%</tspan></text>
<text x="962.6" y="319.6" font-size="16.3" fill="#000" stroke="#000" stroke-width="0.22" textLength="331" lengthAdjust="spacingAndGlyphs">-0.01 [-0.29, 0.28] P=0.96, 3 studies, I<tspan font-size="12.5" dx="0.6" dy="-5.0">2</tspan><tspan dy="5.0"> 0%</tspan></text>
<text x="962.6" y="351.2" font-size="16.3" fill="#000" stroke="#000" stroke-width="0.22" textLength="350.4" lengthAdjust="spacingAndGlyphs">-0.01 [-0.11, 0.10] P=0.91, 12 studies, I<tspan font-size="12.5" dx="0.6" dy="-5.0">2</tspan><tspan dy="5.0"> 12%</tspan></text>
<text x="957.8" y="414.1" font-size="16.3" fill="#000" stroke="#000" stroke-width="0.22" textLength="350.2" lengthAdjust="spacingAndGlyphs">-0.10 [-0.31, 0.12] P=0.38, 10 studies, I<tspan font-size="12.5" dx="0.6" dy="-5.0">2</tspan><tspan dy="5.0"> 73%</tspan></text>
<text x="962.6" y="445.6" font-size="16.3" fill="#000" stroke="#000" stroke-width="0.22" textLength="334" lengthAdjust="spacingAndGlyphs">0.06 [-0.33, 0.45] P=0.77, 3 studies, I<tspan font-size="12.5" dx="0.6" dy="-5.0">2</tspan><tspan dy="5.0"> 91%</tspan></text>
<text x="957.8" y="477.7" font-size="16.3" fill="#000" stroke="#000" stroke-width="0.22" textLength="350.2" lengthAdjust="spacingAndGlyphs">-0.01 [-0.20, 0.18] P=0.93, 17 studies, I<tspan font-size="12.5" dx="0.6" dy="-5.0">2</tspan><tspan dy="5.0"> 83%</tspan></text>
<text x="962.6" y="540.7" font-size="16.3" fill="#000" stroke="#000" stroke-width="0.22" textLength="328" lengthAdjust="spacingAndGlyphs">0.16 [0.06, 0.26] P=.002, 10 studies, I<tspan font-size="12.5" dx="0.6" dy="-5.0">2</tspan><tspan dy="5.0"> 0%</tspan></text>
<text x="957.8" y="571.8" font-size="16.3" fill="#000" stroke="#000" stroke-width="0.22" textLength="341.4" lengthAdjust="spacingAndGlyphs">-0.06 [-0.51, 0.40] P=0.81, 4 studies, I<tspan font-size="12.5" dx="0.6" dy="-5.0">2</tspan><tspan dy="5.0"> 93%</tspan></text>
<text x="962.6" y="603.4" font-size="16.3" fill="#000" stroke="#000" stroke-width="0.22" textLength="338.6" lengthAdjust="spacingAndGlyphs">0.18 [0.01, 0.35] P=0.03, 10 studies, I<tspan font-size="12.5" dx="0.6" dy="-5.0">2</tspan><tspan dy="5.0"> 58%</tspan></text>
<text x="957.8" y="666.2" font-size="16.3" fill="#000" stroke="#000" stroke-width="0.22" textLength="339.6" lengthAdjust="spacingAndGlyphs">-0.10 [-0.24, 0.05] P=0.21, 11 studies, I<tspan font-size="12.5" dx="0.6" dy="-5.0">2</tspan><tspan dy="5.0"> 0%</tspan></text>
<text x="962.6" y="697.8" font-size="16.3" fill="#000" stroke="#000" stroke-width="0.22" textLength="324" lengthAdjust="spacingAndGlyphs">0.06 [-0.19, 0.31] P=0.62, 4 studies, I<tspan font-size="12.5" dx="0.6" dy="-5.0">2</tspan><tspan dy="5.0"> 0%</tspan></text>
<text x="957.8" y="728.9" font-size="16.3" fill="#000" stroke="#000" stroke-width="0.22" textLength="357.2" lengthAdjust="spacingAndGlyphs">-0.15 [-0.26, -0.03] P=0.02, 15 studies, I<tspan font-size="12.5" dx="0.6" dy="-5.0">2</tspan><tspan dy="5.0"> 17%</tspan></text>
</g>
<g id="panelC">
<line x1="1525.71" y1="37.7" x2="1525.71" y2="221.3" stroke="#f1f1f1" stroke-width="1.1"/><line x1="1568.11" y1="37.7" x2="1568.11" y2="221.3" stroke="#f1f1f1" stroke-width="1.1"/><line x1="1610.49" y1="37.7" x2="1610.49" y2="221.3" stroke="#f1f1f1" stroke-width="1.1"/><line x1="1652.88" y1="37.7" x2="1652.88" y2="221.3" stroke="#f1f1f1" stroke-width="1.1"/><line x1="1504.52" y1="37.7" x2="1504.52" y2="221.3" stroke="#ebebeb" stroke-width="1.3"/><line x1="1546.91" y1="37.7" x2="1546.91" y2="221.3" stroke="#ebebeb" stroke-width="1.3"/><line x1="1589.3" y1="37.7" x2="1589.3" y2="221.3" stroke="#ebebeb" stroke-width="1.3"/><line x1="1631.69" y1="37.7" x2="1631.69" y2="221.3" stroke="#ebebeb" stroke-width="1.3"/><line x1="1494.7" y1="72.12" x2="1667.6" y2="72.12" stroke="#ebebeb" stroke-width="1.1"/><line x1="1494.7" y1="129.5" x2="1667.6" y2="129.5" stroke="#ebebeb" stroke-width="1.1"/><line x1="1494.7" y1="186.88" x2="1667.6" y2="186.88" stroke="#ebebeb" stroke-width="1.1"/>
<rect x="1494.7" y="37.7" width="172.9" height="183.6" fill="none" stroke="#d8d8d8" stroke-width="1.3"/>
<line x1="1589.3" y1="37.7" x2="1589.3" y2="221.3" stroke="#000" stroke-width="1.65" stroke-dasharray="5.6 5.6"/>
<line x1="1576.58" y1="72.12" x2="1621.8" y2="72.12" stroke="#1c1c1c" stroke-width="1.9"/>
<circle cx="1599.19" cy="72.12" r="5.3" fill="#000000"/>
<text x="1487.4" y="82.53" font-size="13.3" fill="#4d4d4d" stroke="#4d4d4d" stroke-width="0.05" text-anchor="end" textLength="19.52" lengthAdjust="spacingAndGlyphs">glu</text>
<line x1="1590.71" y1="129.5" x2="1647.23" y2="129.5" stroke="#1faaf8" stroke-width="1.9"/>
<circle cx="1618.97" cy="129.5" r="5.3" fill="#05a2f9"/>
<text x="1487.4" y="139.9" font-size="13.3" fill="#4d4d4d" stroke="#4d4d4d" stroke-width="0.05" text-anchor="end" textLength="19.52" lengthAdjust="spacingAndGlyphs">gln</text>
<line x1="1596.37" y1="186.88" x2="1628.86" y2="186.88" stroke="#1faaf8" stroke-width="1.9"/>
<circle cx="1613.32" cy="186.88" r="5.3" fill="#05a2f9"/>
<text x="1487.4" y="197.28" font-size="13.3" fill="#4d4d4d" stroke="#4d4d4d" stroke-width="0.05" text-anchor="end" textLength="18.7" lengthAdjust="spacingAndGlyphs">glx</text>
<text transform="translate(1449.4,175.2) rotate(-90)" font-size="21.2" fill="#000" stroke="#000" stroke-width="0.45" textLength="43.1" lengthAdjust="spacingAndGlyphs">MFC</text>
<line x1="1525.71" y1="231.1" x2="1525.71" y2="356.8" stroke="#f1f1f1" stroke-width="1.1"/><line x1="1568.11" y1="231.1" x2="1568.11" y2="356.8" stroke="#f1f1f1" stroke-width="1.1"/><line x1="1610.49" y1="231.1" x2="1610.49" y2="356.8" stroke="#f1f1f1" stroke-width="1.1"/><line x1="1652.88" y1="231.1" x2="1652.88" y2="356.8" stroke="#f1f1f1" stroke-width="1.1"/><line x1="1504.52" y1="231.1" x2="1504.52" y2="356.8" stroke="#ebebeb" stroke-width="1.3"/><line x1="1546.91" y1="231.1" x2="1546.91" y2="356.8" stroke="#ebebeb" stroke-width="1.3"/><line x1="1589.3" y1="231.1" x2="1589.3" y2="356.8" stroke="#ebebeb" stroke-width="1.3"/><line x1="1631.69" y1="231.1" x2="1631.69" y2="356.8" stroke="#ebebeb" stroke-width="1.3"/><line x1="1494.7" y1="265.38" x2="1667.6" y2="265.38" stroke="#ebebeb" stroke-width="1.1"/><line x1="1494.7" y1="322.52" x2="1667.6" y2="322.52" stroke="#ebebeb" stroke-width="1.1"/>
<rect x="1494.7" y="231.1" width="172.9" height="125.7" fill="none" stroke="#d8d8d8" stroke-width="1.3"/>
<line x1="1589.3" y1="231.1" x2="1589.3" y2="356.8" stroke="#000" stroke-width="1.65" stroke-dasharray="5.6 5.6"/>
<line x1="1522.89" y1="265.38" x2="1599.19" y2="265.38" stroke="#1c1c1c" stroke-width="1.9"/>
<circle cx="1561.04" cy="265.38" r="5.3" fill="#000000"/>
<text x="1487.4" y="275.78" font-size="13.3" fill="#4d4d4d" stroke="#4d4d4d" stroke-width="0.05" text-anchor="end" textLength="19.52" lengthAdjust="spacingAndGlyphs">glu</text>
<line x1="1600.6" y1="322.52" x2="1645.82" y2="322.52" stroke="#1faaf8" stroke-width="1.9"/>
<circle cx="1623.21" cy="322.52" r="5.3" fill="#05a2f9"/>
<text x="1487.4" y="332.92" font-size="13.3" fill="#4d4d4d" stroke="#4d4d4d" stroke-width="0.05" text-anchor="end" textLength="18.7" lengthAdjust="spacingAndGlyphs">glx</text>
<text transform="translate(1449.4,319.9) rotate(-90)" font-size="21.2" fill="#000" stroke="#000" stroke-width="0.45" textLength="58.8" lengthAdjust="spacingAndGlyphs">DLFPC</text>
<line x1="1525.71" y1="365.7" x2="1525.71" y2="434" stroke="#f1f1f1" stroke-width="1.1"/><line x1="1568.11" y1="365.7" x2="1568.11" y2="434" stroke="#f1f1f1" stroke-width="1.1"/><line x1="1610.49" y1="365.7" x2="1610.49" y2="434" stroke="#f1f1f1" stroke-width="1.1"/><line x1="1652.88" y1="365.7" x2="1652.88" y2="434" stroke="#f1f1f1" stroke-width="1.1"/><line x1="1504.52" y1="365.7" x2="1504.52" y2="434" stroke="#ebebeb" stroke-width="1.3"/><line x1="1546.91" y1="365.7" x2="1546.91" y2="434" stroke="#ebebeb" stroke-width="1.3"/><line x1="1589.3" y1="365.7" x2="1589.3" y2="434" stroke="#ebebeb" stroke-width="1.3"/><line x1="1631.69" y1="365.7" x2="1631.69" y2="434" stroke="#ebebeb" stroke-width="1.3"/><line x1="1494.7" y1="399.85" x2="1667.6" y2="399.85" stroke="#ebebeb" stroke-width="1.1"/>
<rect x="1494.7" y="365.7" width="172.9" height="68.3" fill="none" stroke="#d8d8d8" stroke-width="1.3"/>
<line x1="1589.3" y1="365.7" x2="1589.3" y2="434" stroke="#000" stroke-width="1.65" stroke-dasharray="5.6 5.6"/>
<line x1="1546.91" y1="399.85" x2="1609.08" y2="399.85" stroke="#1c1c1c" stroke-width="1.9"/>
<circle cx="1578" cy="399.85" r="5.3" fill="#000000"/>
<text x="1487.4" y="410.25" font-size="13.3" fill="#4d4d4d" stroke="#4d4d4d" stroke-width="0.05" text-anchor="end" textLength="19.52" lengthAdjust="spacingAndGlyphs">glu</text>
<text transform="translate(1449.4,419.6) rotate(-90)" font-size="21.2" fill="#000" stroke="#000" stroke-width="0.45" textLength="48.4" lengthAdjust="spacingAndGlyphs">fWM</text>
<line x1="1525.71" y1="443.9" x2="1525.71" y2="569.4" stroke="#f1f1f1" stroke-width="1.1"/><line x1="1568.11" y1="443.9" x2="1568.11" y2="569.4" stroke="#f1f1f1" stroke-width="1.1"/><line x1="1610.49" y1="443.9" x2="1610.49" y2="569.4" stroke="#f1f1f1" stroke-width="1.1"/><line x1="1652.88" y1="443.9" x2="1652.88" y2="569.4" stroke="#f1f1f1" stroke-width="1.1"/><line x1="1504.52" y1="443.9" x2="1504.52" y2="569.4" stroke="#ebebeb" stroke-width="1.3"/><line x1="1546.91" y1="443.9" x2="1546.91" y2="569.4" stroke="#ebebeb" stroke-width="1.3"/><line x1="1589.3" y1="443.9" x2="1589.3" y2="569.4" stroke="#ebebeb" stroke-width="1.3"/><line x1="1631.69" y1="443.9" x2="1631.69" y2="569.4" stroke="#ebebeb" stroke-width="1.3"/><line x1="1494.7" y1="478.13" x2="1667.6" y2="478.13" stroke="#ebebeb" stroke-width="1.1"/><line x1="1494.7" y1="535.17" x2="1667.6" y2="535.17" stroke="#ebebeb" stroke-width="1.1"/>
<rect x="1494.7" y="443.9" width="172.9" height="125.5" fill="none" stroke="#d8d8d8" stroke-width="1.3"/>
<line x1="1589.3" y1="443.9" x2="1589.3" y2="569.4" stroke="#000" stroke-width="1.65" stroke-dasharray="5.6 5.6"/>
<line x1="1563.87" y1="478.13" x2="1652.88" y2="478.13" stroke="#1c1c1c" stroke-width="1.9"/>
<circle cx="1609.08" cy="478.13" r="5.3" fill="#000000"/>
<text x="1487.4" y="488.53" font-size="13.3" fill="#4d4d4d" stroke="#4d4d4d" stroke-width="0.05" text-anchor="end" textLength="19.52" lengthAdjust="spacingAndGlyphs">glu</text>
<line x1="1551.15" y1="535.17" x2="1638.75" y2="535.17" stroke="#1c1c1c" stroke-width="1.9"/>
<circle cx="1594.95" cy="535.17" r="5.3" fill="#000000"/>
<text x="1487.4" y="545.57" font-size="13.3" fill="#4d4d4d" stroke="#4d4d4d" stroke-width="0.05" text-anchor="end" textLength="18.7" lengthAdjust="spacingAndGlyphs">glx</text>
<text transform="translate(1449.4,529.1) rotate(-90)" font-size="21.2" fill="#000" stroke="#000" stroke-width="0.45" textLength="53.9" lengthAdjust="spacingAndGlyphs">Temp</text>
<line x1="1525.71" y1="579.1" x2="1525.71" y2="704.7" stroke="#f1f1f1" stroke-width="1.1"/><line x1="1568.11" y1="579.1" x2="1568.11" y2="704.7" stroke="#f1f1f1" stroke-width="1.1"/><line x1="1610.49" y1="579.1" x2="1610.49" y2="704.7" stroke="#f1f1f1" stroke-width="1.1"/><line x1="1652.88" y1="579.1" x2="1652.88" y2="704.7" stroke="#f1f1f1" stroke-width="1.1"/><line x1="1504.52" y1="579.1" x2="1504.52" y2="704.7" stroke="#ebebeb" stroke-width="1.3"/><line x1="1546.91" y1="579.1" x2="1546.91" y2="704.7" stroke="#ebebeb" stroke-width="1.3"/><line x1="1589.3" y1="579.1" x2="1589.3" y2="704.7" stroke="#ebebeb" stroke-width="1.3"/><line x1="1631.69" y1="579.1" x2="1631.69" y2="704.7" stroke="#ebebeb" stroke-width="1.3"/><line x1="1494.7" y1="613.35" x2="1667.6" y2="613.35" stroke="#ebebeb" stroke-width="1.1"/><line x1="1494.7" y1="670.45" x2="1667.6" y2="670.45" stroke="#ebebeb" stroke-width="1.1"/>
<rect x="1494.7" y="579.1" width="172.9" height="125.6" fill="none" stroke="#d8d8d8" stroke-width="1.3"/>
<line x1="1589.3" y1="579.1" x2="1589.3" y2="704.7" stroke="#000" stroke-width="1.65" stroke-dasharray="5.6 5.6"/>
<line x1="1563.87" y1="613.35" x2="1659.95" y2="613.35" stroke="#1c1c1c" stroke-width="1.9"/>
<circle cx="1611.91" cy="613.35" r="5.3" fill="#000000"/>
<text x="1487.4" y="623.75" font-size="13.3" fill="#4d4d4d" stroke="#4d4d4d" stroke-width="0.05" text-anchor="end" textLength="19.52" lengthAdjust="spacingAndGlyphs">glu</text>
<line x1="1593.54" y1="670.45" x2="1658.54" y2="670.45" stroke="#1faaf8" stroke-width="1.9"/>
<circle cx="1626.04" cy="670.45" r="5.3" fill="#05a2f9"/>
<text x="1487.4" y="680.85" font-size="13.3" fill="#4d4d4d" stroke="#4d4d4d" stroke-width="0.05" text-anchor="end" textLength="18.7" lengthAdjust="spacingAndGlyphs">glx</text>
<text transform="translate(1449.4,649.9) rotate(-90)" font-size="21.2" fill="#000" stroke="#000" stroke-width="0.45" textLength="40.2" lengthAdjust="spacingAndGlyphs">Thal</text>
<line x1="1525.71" y1="714.2" x2="1525.71" y2="782.1" stroke="#f1f1f1" stroke-width="1.1"/><line x1="1568.11" y1="714.2" x2="1568.11" y2="782.1" stroke="#f1f1f1" stroke-width="1.1"/><line x1="1610.49" y1="714.2" x2="1610.49" y2="782.1" stroke="#f1f1f1" stroke-width="1.1"/><line x1="1652.88" y1="714.2" x2="1652.88" y2="782.1" stroke="#f1f1f1" stroke-width="1.1"/><line x1="1504.52" y1="714.2" x2="1504.52" y2="782.1" stroke="#ebebeb" stroke-width="1.3"/><line x1="1546.91" y1="714.2" x2="1546.91" y2="782.1" stroke="#ebebeb" stroke-width="1.3"/><line x1="1589.3" y1="714.2" x2="1589.3" y2="782.1" stroke="#ebebeb" stroke-width="1.3"/><line x1="1631.69" y1="714.2" x2="1631.69" y2="782.1" stroke="#ebebeb" stroke-width="1.3"/><line x1="1494.7" y1="748.15" x2="1667.6" y2="748.15" stroke="#ebebeb" stroke-width="1.1"/>
<rect x="1494.7" y="714.2" width="172.9" height="67.9" fill="none" stroke="#d8d8d8" stroke-width="1.3"/>
<line x1="1589.3" y1="714.2" x2="1589.3" y2="782.1" stroke="#000" stroke-width="1.65" stroke-dasharray="5.6 5.6"/>
<line x1="1503.11" y1="748.15" x2="1658.54" y2="748.15" stroke="#1c1c1c" stroke-width="1.9"/>
<circle cx="1580.82" cy="748.15" r="5.3" fill="#000000"/>
<text x="1487.4" y="758.55" font-size="13.3" fill="#4d4d4d" stroke="#4d4d4d" stroke-width="0.05" text-anchor="end" textLength="18.7" lengthAdjust="spacingAndGlyphs">glx</text>
<text transform="translate(1449.4,764.9) rotate(-90)" font-size="21.2" fill="#000" stroke="#000" stroke-width="0.45" textLength="27.5" lengthAdjust="spacingAndGlyphs">BG</text>
<text x="1504.82" y="801.8" font-size="13.5" fill="#4d4d4d">-0.6</text>
<text x="1547.21" y="801.8" font-size="13.5" fill="#4d4d4d">-0.3</text>
<text x="1589.6" y="801.8" font-size="13.5" fill="#4d4d4d">0.0</text>
<text x="1631.99" y="801.8" font-size="13.5" fill="#4d4d4d">0.3</text>
<text transform="translate(1431,24.4) scale(1.08,1)" font-size="30.2" font-weight="bold" fill="#000" stroke="#000" stroke-width="0.3">C</text>
<text x="1500.8" y="23.8" font-size="12.6" fill="#2a2a2a" stroke="#2a2a2a" stroke-width="0.3" textLength="78.8" lengthAdjust="spacingAndGlyphs">CVR (95% CI)</text>
<text x="1601.5" y="24.5" font-size="14" fill="#000" stroke="#000" stroke-width="0.15" textLength="33.7" lengthAdjust="spacingAndGlyphs">Naïve</text>
<text x="1675.8" y="103.6" font-size="16.3" fill="#000" stroke="#000" stroke-width="0.22" textLength="343.4" lengthAdjust="spacingAndGlyphs">0.07 [-0.09, 0.23] P=0.40, 12 studies, I<tspan font-size="12.5" dx="0.6" dy="-5.0">2</tspan><tspan dy="5.0"> 37%</tspan></text>
<text x="1679.6" y="135.2" font-size="16.3" fill="#000" stroke="#000" stroke-width="0.22" textLength="318.2" lengthAdjust="spacingAndGlyphs">0.21 [0.01, 0.41] P=.04, 7 studies, I<tspan font-size="12.5" dx="0.6" dy="-5.0">2</tspan><tspan dy="5.0"> 61%</tspan></text>
<text x="1679.6" y="165.8" font-size="16.3" fill="#000" stroke="#000" stroke-width="0.22" textLength="318.2" lengthAdjust="spacingAndGlyphs">0.17 [0.05, 0.28] P=.005, 8 studies, I<tspan font-size="12.5" dx="0.6" dy="-5.0">2</tspan><tspan dy="5.0"> 0%</tspan></text>
<text x="1675.8" y="292.3" font-size="16.3" fill="#000" stroke="#000" stroke-width="0.22" textLength="340.4" lengthAdjust="spacingAndGlyphs">-0.20 [-0.47, 0.07] P=0.15, 4 studies, I<tspan font-size="12.5" dx="0.6" dy="-5.0">2</tspan><tspan dy="5.0"> 44%</tspan></text>
<text x="1679.6" y="324.2" font-size="16.3" fill="#000" stroke="#000" stroke-width="0.22" textLength="318.2" lengthAdjust="spacingAndGlyphs">0.24 [0.08, 0.40] P=.004, 4 studies, I<tspan font-size="12.5" dx="0.6" dy="-5.0">2</tspan><tspan dy="5.0"> 0%</tspan></text>
<text x="1675.8" y="418" font-size="16.3" fill="#000" stroke="#000" stroke-width="0.22" textLength="329.6" lengthAdjust="spacingAndGlyphs">-0.08 [-0.30, 0.14] P=0.49, 4 studies, I<tspan font-size="12.5" dx="0.6" dy="-5.0">2</tspan><tspan dy="5.0"> 0%</tspan></text>
<text x="1679.6" y="513.1" font-size="16.3" fill="#000" stroke="#000" stroke-width="0.22" textLength="333.6" lengthAdjust="spacingAndGlyphs">0.14 [-0.18, 0.45] P=0.39, 4 studies, I<tspan font-size="12.5" dx="0.6" dy="-5.0">2</tspan><tspan dy="5.0"> 13%</tspan></text>
<text x="1679.6" y="544.7" font-size="16.3" fill="#000" stroke="#000" stroke-width="0.22" textLength="333.6" lengthAdjust="spacingAndGlyphs">0.04 [-0.27, 0.35] P=0.80, 4 studies, I<tspan font-size="12.5" dx="0.6" dy="-5.0">2</tspan><tspan dy="5.0"> 51%</tspan></text>
<text x="1679.6" y="638.5" font-size="16.3" fill="#000" stroke="#000" stroke-width="0.22" textLength="333.6" lengthAdjust="spacingAndGlyphs">0.16 [-0.18, 0.50] P=0.36, 4 studies, I<tspan font-size="12.5" dx="0.6" dy="-5.0">2</tspan><tspan dy="5.0"> 77%</tspan></text>
<text x="1679.6" y="670.3" font-size="16.3" fill="#000" stroke="#000" stroke-width="0.22" textLength="318.2" lengthAdjust="spacingAndGlyphs">0.26 [0.03, 0.49] P=0.03, 3 studies, I<tspan font-size="12.5" dx="0.6" dy="-5.0">2</tspan><tspan dy="5.0"> 0%</tspan></text>
<text x="1675.8" y="764.1" font-size="16.3" fill="#000" stroke="#000" stroke-width="0.22" textLength="339.8" lengthAdjust="spacingAndGlyphs">-0.06 [-0.61, 0.49] P=0.82, 3 studies, I<tspan font-size="12.5" dx="0.6" dy="-5.0">2</tspan><tspan dy="5.0"> 90%</tspan></text>
</g>
</svg>
</body></html>
